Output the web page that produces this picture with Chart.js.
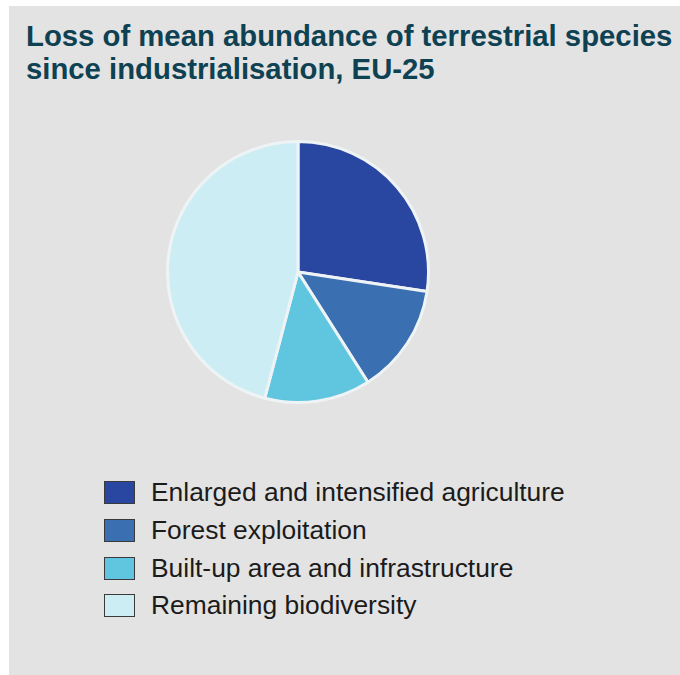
<!DOCTYPE html>
<html>
<head>
<meta charset="utf-8">
<script src="https://cdn.jsdelivr.net/npm/chart.js@4"></script>
<style>
body{margin:0;background:#fff;font-family:"Liberation Sans",Arial,sans-serif;}
#panel{position:absolute;left:9px;top:6px;width:671px;height:669px;background:#e3e3e3;}
#title{position:absolute;left:17px;top:13px;margin:0;font-size:29.3px;line-height:33px;font-weight:bold;color:#0e4152;white-space:nowrap;}
#wrap{position:absolute;left:157px;top:134px;width:264px;height:264px;}
#legend{position:absolute;left:95px;top:468px;}
.item{height:37.7px;display:flex;align-items:center;}
.box{width:29px;height:21px;border:1px solid #3a3a3a;margin-right:16px;}
.lab{font-size:26.4px;color:#1b1b1b;white-space:nowrap;}
</style>
</head>
<body>
<div id="panel">
<div id="title">Loss of mean abundance of terrestrial species<br>since industrialisation, EU-25</div>
<div id="wrap"><canvas id="pie"></canvas></div>
<div id="legend"></div>
</div>
<script>
const categories=["Enlarged and intensified agriculture","Forest exploitation","Built-up area and infrastructure","Remaining biodiversity"];
const values=[27.4,13.6,13.1,45.9];
const colors=["#2946a0","#3a6fb1","#60c5df","#cdedf4"];

const chart=new Chart(document.getElementById("pie"),{
type:"pie",
data:{labels:categories,datasets:[{data:values,backgroundColor:colors,borderColor:"#eef3f5",borderWidth:3}]},
options:{
responsive:true,maintainAspectRatio:false,animation:false,
layout:{padding:0},
plugins:{legend:{display:false},tooltip:{enabled:false}}
}
});

// legend from the chart's own data
const lg=document.getElementById("legend");
chart.data.labels.forEach((t,i)=>{
const row=document.createElement("div");row.className="item";
const b=document.createElement("div");b.className="box";b.style.background=chart.data.datasets[0].backgroundColor[i];
const s=document.createElement("span");s.className="lab";s.textContent=t;
row.appendChild(b);row.appendChild(s);lg.appendChild(row);
});
</script>
</body>
</html>
